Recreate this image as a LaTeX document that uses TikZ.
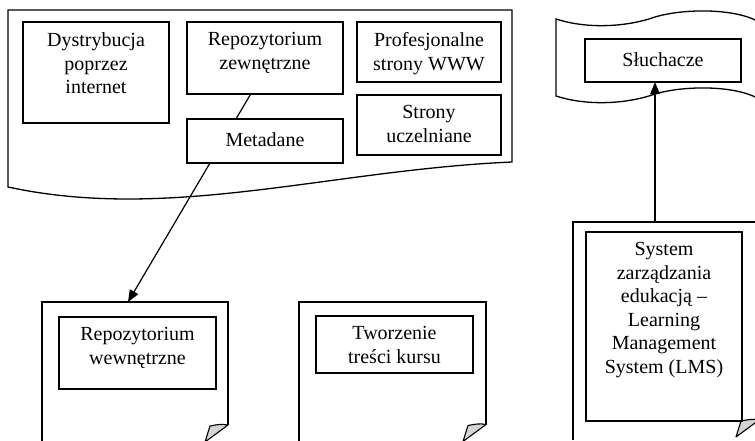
\documentclass[tikz,border=0pt]{standalone}
\usepackage{fontspec}
\setmainfont{Liberation Serif}
\usetikzlibrary{arrows.meta}

\tikzset{
  box/.style={draw, line width=1.3pt, fill=white, inner sep=0pt, outer sep=0pt, anchor=north west},
  area/.style={draw=none, inner sep=0pt, outer sep=0pt, anchor=north west},
  txt/.style={align=center, inner sep=0pt, anchor=north,
              font=\fontsize{20}{23.5}\selectfont,
              execute at begin node={\rule{0pt}{16.5pt}}},
  outline/.style={draw, line width=1.3pt, line join=miter},
  fold/.style={draw, fill=black!17, line width=1.1pt, line join=round},
  arr/.style={line width=1.2pt, -{Triangle[length=12pt, width=9.5pt]}},
}

\begin{document}
\begin{tikzpicture}[x=1pt, y=-1pt]
\clip (0,0) rectangle (755,440);

% outer shapes (documents and tape)
\node[area, minimum width=504pt, minimum height=177pt] (dist)   at (8,10)   {};
\node[area, minimum width=186pt, minimum height=123pt] (rwdoc)  at (42,302) {};
\node[area, minimum width=187pt, minimum height=122.5pt] (twdoc) at (299,302) {};
\node[area, minimum width=186pt, minimum height=198pt] (lmsdoc) at (573,222) {};
\node[area, minimum width=206pt, minimum height=77pt]  (tape)   at (556,20) {};

% distribution area with wavy bottom
\draw[outline] (dist.south west) -- (dist.north west) -- (dist.north east)
  -- ([yshift=25pt]dist.south east)
  .. controls (330,170) and (170,222) .. (dist.south west) -- cycle;

% pages with a curled corner
\foreach \d in {rwdoc, twdoc, lmsdoc} {
  \draw[outline] ([yshift=-20pt]\d.south west) -- (\d.north west)
    -- (\d.north east) -- (\d.south east);
  \filldraw[fold] (\d.south east) .. controls +(-6,-1.5) and +(5,-1) .. ++(-18,1)
    -- ++(-5,16) -- cycle;
}

% audience tape
\draw[outline] (556,19) .. controls (590,30) and (630,26) .. (655,17)
  .. controls (685,8) and (740,8) .. (762,24) -- (762,101)
  .. controls (740,85) and (685,85) .. (655,94)
  .. controls (630,103) and (590,107) .. (556,96) -- cycle;

% boxes
\node[box, minimum width=146pt, minimum height=101pt] (dys)  at (23,22)  {};
\node[box, minimum width=156pt, minimum height=72pt]  (rz)   at (187,22) {};
\node[box, minimum width=144pt, minimum height=60pt]  (prof) at (357,22) {};
\node[box, minimum width=144pt, minimum height=60pt]  (str)  at (357,95) {};
\node[box, minimum width=157pt, minimum height=72pt]  (rw)   at (59,317) {};
\node[box, minimum width=157pt, minimum height=57pt]  (tw)   at (316,316) {};
\node[box, minimum width=156pt, minimum height=189pt] (lms)  at (586,232) {};
\node[box, minimum width=156pt, minimum height=43pt]  (sl)   at (585,39) {};

% external repository feeds the internal one
\draw[arr] ([xshift=-14.3pt]rz.south) -- ([xshift=-7pt]rwdoc.north);

\node[box, minimum width=156pt, minimum height=44pt] (meta) at (187,119) {};

% LMS serves the audience
\coordinate (upx) at (655,150);
\draw[arr] (lmsdoc.north -| upx) -- (sl.south -| upx);

% texts
\node[txt] (dys-t)  at ([yshift=-10.5pt]dys.north)  {Dystrybucja\\poprzez\\internet};
\node[txt] (rz-t)   at ([yshift=-10.5pt]rz.north)   {Repozytorium\\zewnętrzne};
\node[txt] (meta-t) at ([yshift=-10.5pt]meta.north) {Metadane};
\node[txt] (prof-t) at ([yshift=-10.5pt]prof.north) {Profesjonalne\\strony WWW};
\node[txt] (str-t)  at ([yshift=-10.5pt]str.north)  {Strony\\uczelniane};
\node[txt] (rw-t)   at ([yshift=-10.5pt]rw.north)   {Repozytorium\\wewnętrzne};
\begin{scope}
  \clip (tw.north west) rectangle ([yshift=8pt]tw.south east);
  \node[txt] (tw-t) at ([yshift=-10.5pt]tw.north) {Tworzenie\\treści kursu};
\end{scope}
\node[txt] (lms-t)  at ([yshift=-10.5pt]lms.north)
  {System\\zarządzania\\edukacją –\\Learning\\Management\\System (LMS)};
\node[txt] (sl-t)   at ([yshift=-11pt]sl.north)    {Słuchacze};
\end{tikzpicture}
\end{document}
